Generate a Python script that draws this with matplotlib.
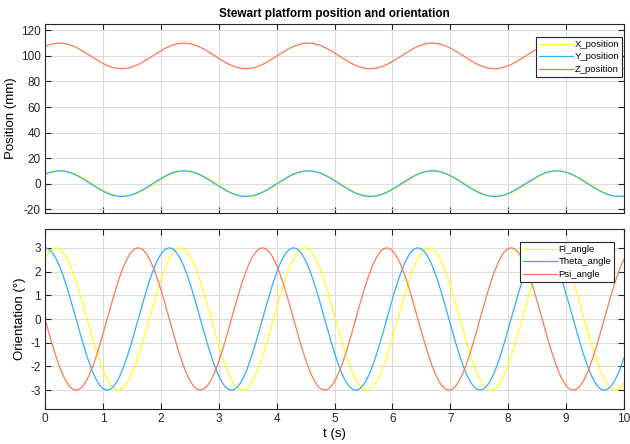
import numpy as np
import matplotlib
matplotlib.use("Agg")
import matplotlib.pyplot as plt

plt.rcParams['font.family'] = ['Liberation Sans', 'DejaVu Sans']
plt.rcParams['axes.unicode_minus'] = False

# Sinusoidal reference trajectories of the platform
t_end = 10.0
omega = 2.927                      # rad/s (period ~2.15 s)

pos_names = ["X_position", "Y_position", "Z_position"]
pos_offset = [0.0, 0.0, 100.0]     # mm
pos_amp = [10.0, 10.0, 10.0]       # mm
pos_delay = [0.28, 0.25, 0.25]     # s, time of first peak

ang_names = ["Fi_angle", "Theta_angle", "Psi_angle"]
ang_amp = [3.0, 3.0, 3.0]          # deg
ang_delay = [0.19, 0.0, 1.61]      # s, time of first peak

colors = ["#FFFF22", "#2FAEFF", "#FF7850"]

t = np.linspace(0, t_end, 2001)

W, H = 630, 444
fig = plt.figure(figsize=(W/100, H/100), dpi=100)
ax1 = fig.add_axes([45/W, 1-213/H, 579/W, (213-24)/H])
ax2 = fig.add_axes([45/W, 1-409/H, 579/W, (409-229)/H])

for name, off, amp, d, c in zip(pos_names, pos_offset, pos_amp, pos_delay, colors):
    ax1.plot(t, off + amp*np.cos(omega*(t - d)), color=c, lw=0.9, label=name)
for name, amp, d, c in zip(ang_names, ang_amp, ang_delay, colors):
    ax2.plot(t, amp*np.cos(omega*(t - d)), color=c, lw=0.9, label=name)

ax1.set_xlim(0, 10)
ax1.set_ylim(-23, 125)
ax1.set_yticks(np.arange(-20, 121, 20))
ax1.set_xticks(np.arange(0, 11, 1))
ax1.set_xticklabels([])
ax1.set_ylabel("Position (mm)", fontsize=9.5, labelpad=3)
ax1.set_title("Stewart platform position and orientation", fontsize=8.5,
              fontweight='bold', pad=5)

ax2.set_xlim(0, 10)
ax2.set_ylim(-3.8, 3.8)
ax2.set_yticks(np.arange(-3, 4, 1))
ax2.set_xticks(np.arange(0, 11, 1))
ax2.set_ylabel("Orientation (°)", fontsize=9.5, labelpad=3)
ax2.set_xlabel("t (s)", fontsize=9.5, labelpad=2)

legend_anchor = [(622/W, 1-37/H), (614/W, 1-242/H)]

for ax, anchor in zip((ax1, ax2), legend_anchor):
    ax.grid(True, color="#DCDCDC", lw=0.8)
    ax.set_axisbelow(True)
    ax.tick_params(direction='in', top=True, right=True, length=4,
                   width=0.8, labelsize=8.5, colors="#262626", pad=3)
    for s in ax.spines.values():
        s.set_color("#262626")
        s.set_linewidth(0.8)
    leg = ax.legend(loc='upper right', bbox_to_anchor=anchor,
                    bbox_transform=fig.transFigure, fontsize=6.8,
                    handlelength=3.6, handletextpad=0.2, borderpad=0.3,
                    labelspacing=0.38, fancybox=False, framealpha=1,
                    edgecolor="#262626", borderaxespad=0)
    leg.get_frame().set_linewidth(0.8)

fig.savefig("out.png", dpi=100)
